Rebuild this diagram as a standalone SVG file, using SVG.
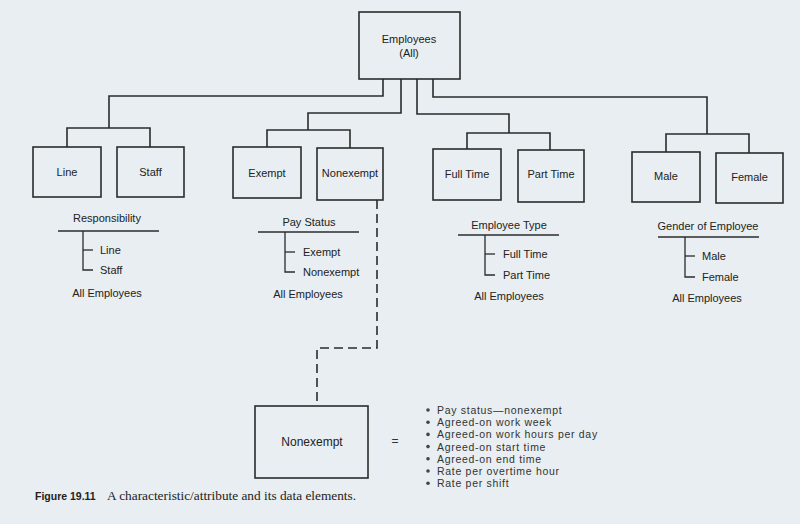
<svg xmlns="http://www.w3.org/2000/svg" width="800" height="524" viewBox="0 0 800 524">
<style>
.bg{fill:#e8eef1}
.box{fill:none;stroke:#2b2b2b;stroke-width:1.6}
.conn{fill:none;stroke:#2b2b2b;stroke-width:1.6}
.dash{fill:none;stroke:#2b2b2b;stroke-width:1.6;stroke-dasharray:9 5}
.leg{fill:none;stroke:#2b2b2b;stroke-width:1.3}
.t{font-family:"Liberation Sans",Arial,sans-serif;font-size:11px;fill:#222;text-anchor:middle}
.tl{font-family:"Liberation Sans",Arial,sans-serif;font-size:11px;fill:#222}
.b{font-family:"Liberation Sans",Arial,sans-serif;font-size:10.5px;letter-spacing:0.7px;fill:#333}
.eq{font-family:"Liberation Sans",Arial,sans-serif;font-size:12px;fill:#333;text-anchor:middle}
.cap{font-family:"Liberation Serif","Times New Roman",serif;font-size:12.5px;fill:#222}
.capb{font-family:"Liberation Sans",Arial,sans-serif;font-size:10.5px;font-weight:bold;fill:#222}
.dot{fill:#444}
</style>
<rect class="bg" x="0" y="0" width="800" height="524"/>

<g id="connectors">
<polyline class="conn" points="383,79 383,96 109,96 109,128"/>
<polyline class="conn" points="401,79 401,113 308,113 308,130"/>
<polyline class="conn" points="417,79 417,114 509,114 509,133"/>
<polyline class="conn" points="433,79 433,97 707,97 707,134"/>
<polyline class="conn" points="67,147 67,128 150,128 150,147"/>
<polyline class="conn" points="267,147 267,130 350,130 350,148"/>
<polyline class="conn" points="467,149 467,133 550,133 550,150"/>
<polyline class="conn" points="666,152 666,134 749,134 749,153"/>
<polyline class="dash" points="377,200 377,348 317,348 317,406"/>
</g>

<g id="employees-all">
<rect class="box" x="359" y="12" width="101" height="67"/>
<text class="t" x="409" y="43">Employees</text>
<text class="t" x="409" y="57">(All)</text>
</g>

<g id="line">
<rect class="box" x="33" y="147" width="68" height="50"/>
<text class="t" x="67" y="176">Line</text>
</g>
<g id="staff">
<rect class="box" x="117" y="147" width="67" height="50"/>
<text class="t" x="150.5" y="176">Staff</text>
</g>
<g id="exempt">
<rect class="box" x="233" y="147" width="68" height="51"/>
<text class="t" x="267" y="177">Exempt</text>
</g>
<g id="nonexempt">
<rect class="box" x="317" y="148" width="66" height="52"/>
<text class="t" x="350" y="177">Nonexempt</text>
</g>
<g id="full-time">
<rect class="box" x="433" y="149" width="68" height="51"/>
<text class="t" x="467" y="178">Full Time</text>
</g>
<g id="part-time">
<rect class="box" x="518" y="150" width="66" height="52"/>
<text class="t" x="551" y="178">Part Time</text>
</g>
<g id="male">
<rect class="box" x="632" y="152" width="68" height="50"/>
<text class="t" x="666" y="180">Male</text>
</g>
<g id="female">
<rect class="box" x="716" y="153" width="67" height="50"/>
<text class="t" x="749.5" y="181">Female</text>
</g>

<g id="legend-responsibility">
<text class="t" x="107" y="222">Responsibility</text>
<line class="leg" x1="58" y1="231" x2="159" y2="231"/>
<polyline class="leg" points="83,231 83,270 93,270"/>
<line class="leg" x1="83" y1="250" x2="93" y2="250"/>
<text class="tl" x="100" y="254">Line</text>
<text class="tl" x="100" y="274">Staff</text>
<text class="t" x="107" y="297">All Employees</text>
</g>

<g id="legend-pay-status">
<text class="t" x="309" y="226">Pay Status</text>
<line class="leg" x1="258" y1="232" x2="359" y2="232"/>
<polyline class="leg" points="285,232 285,272 295,272"/>
<line class="leg" x1="285" y1="252" x2="295" y2="252"/>
<text class="tl" x="303" y="256">Exempt</text>
<text class="tl" x="303" y="276">Nonexempt</text>
<text class="t" x="308" y="298">All Employees</text>
</g>

<g id="legend-employee-type">
<text class="t" x="509" y="229">Employee Type</text>
<line class="leg" x1="458" y1="235" x2="559" y2="235"/>
<polyline class="leg" points="485,235 485,275 495,275"/>
<line class="leg" x1="485" y1="254" x2="495" y2="254"/>
<text class="tl" x="503" y="258">Full Time</text>
<text class="tl" x="503" y="279">Part Time</text>
<text class="t" x="509" y="300">All Employees</text>
</g>

<g id="legend-gender">
<text class="t" x="708" y="230">Gender of Employee</text>
<line class="leg" x1="658" y1="237" x2="759" y2="237"/>
<polyline class="leg" points="685,237 685,277 695,277"/>
<line class="leg" x1="685" y1="256" x2="695" y2="256"/>
<text class="tl" x="702" y="260">Male</text>
<text class="tl" x="702" y="281">Female</text>
<text class="t" x="707" y="302">All Employees</text>
</g>

<g id="nonexempt-detail">
<rect class="box" x="255" y="406" width="113" height="72"/>
<text class="t" x="312" y="446" style="font-size:12px">Nonexempt</text>
</g>

<g id="equals">
<text class="eq" x="395" y="445">=</text>
</g>

<g id="data-elements">
<circle class="dot" cx="428" cy="410" r="1.8"/>
<circle class="dot" cx="428" cy="422.2" r="1.8"/>
<circle class="dot" cx="428" cy="434.4" r="1.8"/>
<circle class="dot" cx="428" cy="446.6" r="1.8"/>
<circle class="dot" cx="428" cy="458.8" r="1.8"/>
<circle class="dot" cx="428" cy="471" r="1.8"/>
<circle class="dot" cx="428" cy="483.2" r="1.8"/>
<text class="b" x="437" y="414">Pay status—nonexempt</text>
<text class="b" x="437" y="426.2">Agreed-on work week</text>
<text class="b" x="437" y="438.4">Agreed-on work hours per day</text>
<text class="b" x="437" y="450.6">Agreed-on start time</text>
<text class="b" x="437" y="462.8">Agreed-on end time</text>
<text class="b" x="437" y="475">Rate per overtime hour</text>
<text class="b" x="437" y="487.2">Rate per shift</text>
</g>

<g id="caption">
<text class="capb" x="35" y="500">Figure 19.11</text>
<text class="cap" x="107" y="500" textLength="249" lengthAdjust="spacingAndGlyphs">A characteristic/attribute and its data elements.</text>
</g>
</svg>
